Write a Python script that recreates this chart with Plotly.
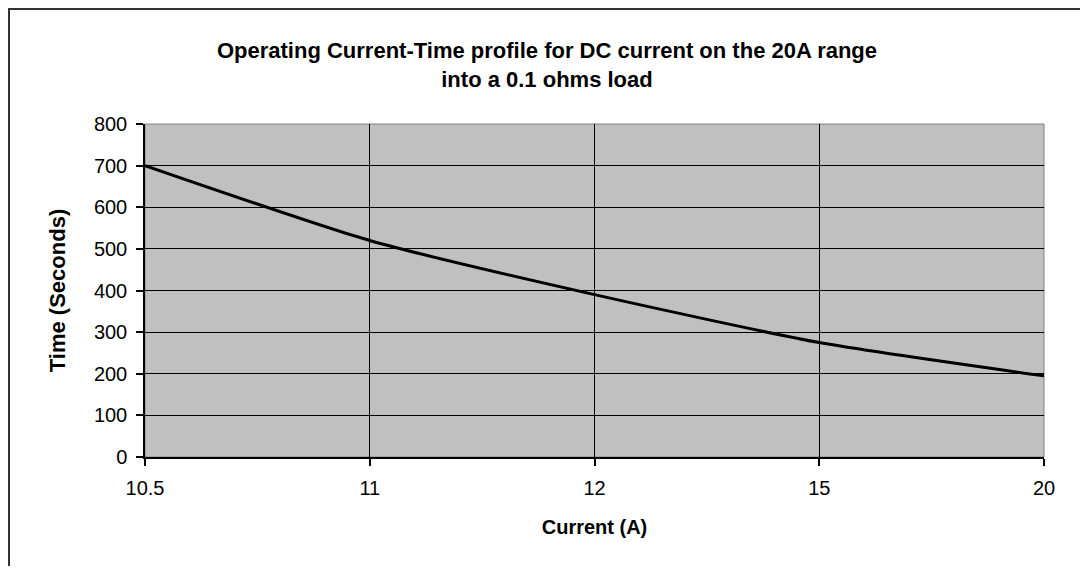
import plotly.graph_objects as go

current_labels = ["10.5", "11", "12", "15", "20"]
time_seconds = [700, 520, 390, 275, 195]
y_ticks = [0, 100, 200, 300, 400, 500, 600, 700, 800]
title_lines = ["Operating Current-Time profile for DC current on the 20A range",
               "into a 0.1 ohms load"]

# page body has an 8px margin; figure coordinates are page coordinates - 8
OFF = 8
W, H = 1072, 558
L, R, T, B = 145 - OFF, 1044 - OFF, 124 - OFF, 457 - OFF
pw, ph = R - L, B - T


def px(x_page):
    return (x_page - OFF - L) / pw


def py(y_page):
    return (B - (y_page - OFF)) / ph


fig = go.Figure()
fig.add_trace(go.Scatter(
    x=current_labels, y=time_seconds, mode="lines",
    line=dict(color="black", width=3, shape="spline", smoothing=0.6),
    showlegend=False, hoverinfo="x+y",
))

font = "Arial, 'Liberation Sans', sans-serif"

fig.update_layout(
    width=W, height=H, autosize=False,
    margin=dict(l=L, r=W - R, t=T, b=H - B),
    paper_bgcolor="white", plot_bgcolor="#C0C0C0",
    font=dict(family=font, color="black"),
    title=dict(
        text="<b>" + "<br>".join(title_lines) + "</b>",
        x=px(547), xref="paper", xanchor="center",
        y=1 - (58 - OFF) / H, yref="container", yanchor="middle",
        font=dict(size=22, family=font, color="black"),
    ),
    xaxis=dict(
        type="category", range=[0, len(current_labels) - 1],
        showgrid=True, gridcolor="black", gridwidth=1,
        showline=True, linecolor="black", linewidth=1.5,
        ticks="outside", ticklen=7, tickcolor="black", tickwidth=1.5,
        tickfont=dict(size=20, family=font), ticklabelstandoff=5,
        title=dict(text="<b>Current (A)</b>", font=dict(size=20, family=font), standoff=22),
        zeroline=False,
    ),
    yaxis=dict(
        range=[0, 800], tickvals=y_ticks,
        showgrid=True, gridcolor="black", gridwidth=1,
        showline=True, linecolor="black", linewidth=1.5,
        ticks="outside", ticklen=7, tickcolor="black", tickwidth=1.5,
        tickfont=dict(size=20, family=font), ticklabelstandoff=5,
        title=dict(text="<b>Time (Seconds)</b>", font=dict(size=22, family=font), standoff=22),
        zeroline=False,
    ),
    shapes=[
        dict(type="rect", xref="paper", yref="paper",
             x0=0, x1=1, y0=0, y1=1,
             line=dict(color="#808080", width=1), layer="between"),
        dict(type="rect", xref="paper", yref="paper",
             x0=px(9), x1=px(1120), y0=py(9), y1=py(620),
             line=dict(color="#333333", width=2), layer="above"),
    ],
)

fig.write_html("out.html")
